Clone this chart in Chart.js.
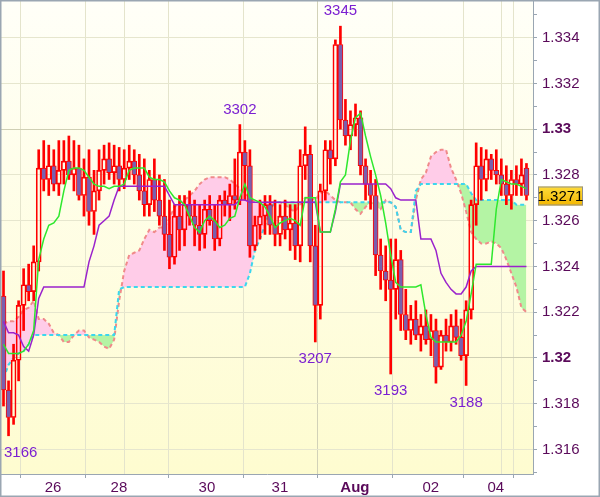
<!DOCTYPE html>
<html lang="en">
<head>
<meta charset="UTF-8">
<title>Ichimoku chart</title>
<script src="https://cdn.jsdelivr.net/npm/chart.js@4.4.0/dist/chart.umd.min.js"></script>
<style>
  html, body { margin: 0; padding: 0; background: #fff; }
</style>
</head>
<body>
<canvas id="chart" width="600" height="497"></canvas>
<script>
// hourly candles, index 0..104
const opens = [
  1.3227,1.3186,1.3174,1.3199,1.3223,1.3232,1.3229,1.3242,1.3283,1.3278,
  1.3284,1.3276,1.3282,1.3286,1.3280,1.3283,1.3271,1.3279,1.3264,1.3273,
  1.3282,1.3287,1.3281,1.3284,1.3278,1.3283,1.3286,1.3280,1.3273,1.3267,
  1.3278,1.3269,1.3262,1.3254,1.3244,1.3262,1.3256,1.3267,1.3262,1.3258,
  1.3254,1.3265,1.3260,1.3252,1.3269,1.3267,1.3271,1.3269,1.3290,1.3284,
  1.3249,1.3258,1.3262,1.3267,1.3258,1.3254,1.3262,1.3256,1.3259,1.3249,
  1.3284,1.3289,1.3249,1.3223,1.3273,1.3291,1.3287,1.3337,1.3304,1.3297,
  1.3302,1.3305,1.3284,1.3276,1.3271,1.3245,1.3238,1.3234,1.3230,1.3243,
  1.3219,1.3212,1.3217,1.3210,1.3214,1.3208,1.3212,1.3196,1.3210,1.3207,
  1.3214,1.3209,1.3201,1.3221,1.3267,1.3284,1.3278,1.3287,1.3282,1.3280,
  1.3276,1.3271,1.3278,1.3276,1.3283
];
const highs = [
  1.3238,1.3190,1.3206,1.3225,1.3239,1.3241,1.3249,1.3291,1.3295,1.3293,
  1.3291,1.3295,1.3295,1.3297,1.3295,1.3293,1.3287,1.3291,1.3282,1.3291,
  1.3293,1.3294,1.3293,1.3292,1.3291,1.3293,1.3291,1.3289,1.3287,1.3282,
  1.3287,1.3280,1.3278,1.3269,1.3267,1.3271,1.3271,1.3273,1.3269,1.3267,
  1.3269,1.3271,1.3267,1.3271,1.3273,1.3276,1.3287,1.3302,1.3295,1.3291,
  1.3262,1.3269,1.3271,1.3271,1.3269,1.3267,1.3269,1.3267,1.3267,1.3291,
  1.3301,1.3293,1.3258,1.3276,1.3295,1.3295,1.3339,1.3345,1.3313,1.3308,
  1.3311,1.3308,1.3287,1.3282,1.3278,1.3252,1.3249,1.3252,1.3252,1.3247,
  1.3230,1.3223,1.3225,1.3219,1.3221,1.3219,1.3217,1.3212,1.3217,1.3219,
  1.3221,1.3217,1.3225,1.3269,1.3294,1.3292,1.3291,1.3289,1.3291,1.3287,
  1.3284,1.3282,1.3284,1.3287,1.3285
];
const lows = [
  1.3179,1.3166,1.3171,1.3190,1.3212,1.3225,1.3225,1.3238,1.3273,1.3271,
  1.3273,1.3271,1.3276,1.3278,1.3273,1.3269,1.3262,1.3258,1.3254,1.3269,
  1.3276,1.3278,1.3276,1.3273,1.3274,1.3278,1.3276,1.3269,1.3262,1.3262,
  1.3264,1.3258,1.3247,1.3239,1.3241,1.3247,1.3249,1.3258,1.3249,1.3247,
  1.3248,1.3258,1.3247,1.3249,1.3262,1.3260,1.3265,1.3267,1.3269,1.3244,
  1.3247,1.3252,1.3254,1.3254,1.3249,1.3249,1.3252,1.3247,1.3243,1.3242,
  1.3278,1.3242,1.3207,1.3217,1.3269,1.3276,1.3284,1.3300,1.3293,1.3291,
  1.3297,1.3280,1.3269,1.3265,1.3236,1.3230,1.3225,1.3193,1.3217,1.3212,
  1.3208,1.3206,1.3208,1.3203,1.3206,1.3201,1.3189,1.3195,1.3203,1.3203,
  1.3206,1.3199,1.3188,1.3217,1.3258,1.3269,1.3273,1.3278,1.3276,1.3271,
  1.3267,1.3265,1.3271,1.3271,1.3269
];
const closes = [
  1.3186,1.3174,1.3199,1.3223,1.3232,1.3229,1.3242,1.3283,1.3278,1.3284,
  1.3276,1.3282,1.3286,1.3280,1.3283,1.3271,1.3279,1.3264,1.3273,1.3282,
  1.3287,1.3281,1.3284,1.3278,1.3283,1.3286,1.3280,1.3273,1.3267,1.3278,
  1.3269,1.3262,1.3254,1.3244,1.3262,1.3256,1.3267,1.3262,1.3258,1.3254,
  1.3265,1.3260,1.3252,1.3269,1.3267,1.3271,1.3269,1.3290,1.3284,1.3249,
  1.3258,1.3262,1.3267,1.3258,1.3254,1.3262,1.3256,1.3259,1.3249,1.3284,
  1.3289,1.3249,1.3223,1.3273,1.3291,1.3287,1.3337,1.3304,1.3297,1.3302,
  1.3305,1.3284,1.3276,1.3271,1.3245,1.3238,1.3234,1.3230,1.3243,1.3219,
  1.3212,1.3217,1.3210,1.3214,1.3208,1.3212,1.3196,1.3210,1.3207,1.3214,
  1.3209,1.3201,1.3221,1.3267,1.3284,1.3278,1.3287,1.3282,1.3280,1.3276,
  1.3271,1.3278,1.3276,1.3280,1.3271
];

// ichimoku lines
const tenkan = [
  1.3206,1.3202,1.3202,1.3202,1.3203,1.3206,1.3212,1.3243,1.3252,1.3258,
  1.3259,1.3262,1.3273,1.3282,1.3283,1.3283,1.3282,1.3279,1.3276,1.3275,
  1.3275,1.3274,1.3275,1.3275,1.3276,1.3282,1.3283,1.3283,1.3283,1.3279,
  1.3278,1.3278,1.3277,1.3273,1.3270,1.3269,1.3267,1.3262,1.3257,1.3255,
  1.3260,1.3262,1.3260,1.3257,1.3258,1.3261,1.3262,1.3270,1.3276,1.3270,
  1.3269,1.3268,1.3266,1.3262,1.3257,1.3259,1.3260,1.3261,1.3260,1.3258,
  1.3270,1.3270,1.3270,1.3255,1.3255,1.3255,1.3265,1.3277,1.3280,1.3295,
  1.3305,1.3307,1.3297,1.3288,1.3280,1.3271,1.3259,1.3245,1.3233,1.3231,
  1.3231,1.3231,1.3231,1.3232,1.3219,1.3209,1.3207,1.3207,1.3207,1.3207,
  1.3207,1.3210,1.3216,1.3228,1.3241,1.3241,1.3241,1.3241,1.3265,1.3278,
  1.3277,1.3276,1.3276,1.3275,1.3274
];
const kijun = [
  1.3216,1.3211,1.3211,1.3210,1.3205,1.3203,1.3210,1.3226,1.3231,1.3231,
  1.3231,1.3231,1.3231,1.3231,1.3231,1.3231,1.3231,1.3242,1.3249,1.3258,
  1.3260,1.3262,1.3269,1.3275,1.3275,1.3275,1.3275,1.3275,1.3275,1.3275,
  1.3275,1.3275,1.3275,1.3271,1.3267,1.3267,1.3267,1.3267,1.3267,1.3267,
  1.3267,1.3267,1.3267,1.3267,1.3267,1.3267,1.3267,1.3269,1.3269,1.3268,
  1.3268,1.3268,1.3268,1.3268,1.3268,1.3268,1.3268,1.3268,1.3268,1.3268,
  1.3268,1.3268,1.3268,1.3255,1.3255,1.3255,1.3264,1.3276,1.3276,1.3276,
  1.3276,1.3276,1.3276,1.3276,1.3276,1.3276,1.3276,1.3274,1.3270,1.3269,
  1.3269,1.3269,1.3269,1.3252,1.3252,1.3252,1.3247,1.3237,1.3233,1.3230,
  1.3228,1.3228,1.3231,1.3238,1.3240,1.3240,1.3240,1.3240,1.3240,1.3240,
  1.3240,1.3240,1.3240,1.3240,1.3240
];
const spanA = [
  1.3215,1.3216,1.3216,1.3218,1.3221,1.3222,1.3225,1.3217,1.3217,1.3215,
  1.3211,1.3210,1.3207,1.3207,1.3210,1.3212,1.3212,1.3209,1.3208,1.3207,
  1.3205,1.3204,1.3208,1.3225,1.3238,1.3245,1.3246,1.3247,1.3252,1.3256,
  1.3255,1.3257,1.3257,1.3261,1.3266,1.3268,1.3269,1.3271,1.3273,1.3276,
  1.3278,1.3279,1.3279,1.3279,1.3279,1.3278,1.3276,1.3274,1.3272,1.3270,
  1.3268,1.3268,1.3268,1.3268,1.3268,1.3268,1.3267,1.3265,1.3264,1.3267,
  1.3270,1.3270,1.3269,1.3272,1.3273,1.3271,1.3269,1.3268,1.3268,1.3268,
  1.3265,1.3263,1.3266,1.3268,1.3266,1.3265,1.3269,1.3268,1.3266,1.3256,
  1.3255,1.3255,1.3269,1.3278,1.3281,1.3288,1.3290,1.3291,1.3291,1.3283,
  1.3278,1.3272,1.3264,1.3255,1.3252,1.3250,1.3250,1.3251,1.3250,1.3248,
  1.3243,1.3237,1.3231,1.3222,1.3220
];
const spanB = [
  1.3191,1.3197,1.3200,1.3202,1.3203,1.3206,1.3210,1.3210,1.3210,1.3210,
  1.3210,1.3210,1.3210,1.3210,1.3210,1.3210,1.3210,1.3210,1.3210,1.3210,
  1.3210,1.3210,1.3210,1.3230,1.3231,1.3231,1.3231,1.3231,1.3231,1.3231,
  1.3231,1.3231,1.3231,1.3231,1.3231,1.3231,1.3231,1.3231,1.3231,1.3231,
  1.3231,1.3231,1.3231,1.3231,1.3231,1.3231,1.3231,1.3231,1.3231,1.3237,
  1.3247,1.3252,1.3258,1.3265,1.3268,1.3268,1.3268,1.3268,1.3268,1.3268,
  1.3268,1.3268,1.3268,1.3268,1.3268,1.3268,1.3268,1.3268,1.3268,1.3268,
  1.3268,1.3268,1.3268,1.3268,1.3268,1.3268,1.3268,1.3268,1.3266,1.3256,
  1.3255,1.3255,1.3273,1.3276,1.3276,1.3276,1.3276,1.3276,1.3276,1.3276,
  1.3276,1.3276,1.3276,1.3272,1.3269,1.3269,1.3269,1.3269,1.3269,1.3269,
  1.3269,1.3269,1.3267,1.3267,1.3267
];

// x axis: positions on the candle index scale
const dayTicks = [9.84, 22.96, 40.45, 54.97, 69.88, 84.99, 97.91];
const dayLabels = ['26', '28', '30', '31', 'Aug', '02', '04'];
const weekBreaks = [25.35, 100.3];

// high / low markers
const markIdx = [1, 47, 62, 67, 77, 92];
const markSide = ['low', 'high', 'low', 'high', 'low', 'low'];

const AXIS = '#9aa6b2';
const LABEL = '#5a0a5a';
const FONT = "'Liberation Sans', Arial, sans-serif";
Chart.defaults.font.family = FONT;

const pts = arr => arr.map((v, i) => ({ x: i, y: v }));
const bodies = opens.map((o, i) => ({ x: i, y: [o, closes[i]] }));
const upWick = highs.map((h, i) => ({ x: i, y: [Math.max(opens[i], closes[i]), h] }));
const dnWick = lows.map((l, i) => ({ x: i, y: [l, Math.min(opens[i], closes[i])] }));
const bodyFill = opens.map((o, i) => closes[i] < o ? '#7a5fae' : 'rgba(0,0,0,0)');

const overlay = {
  id: 'overlay',
  beforeDraw(chart) {
    const { ctx, chartArea: a } = chart;
    ctx.save();
    ctx.fillStyle = '#ffffff';
    ctx.fillRect(0, 0, chart.width, chart.height);
    const g = ctx.createLinearGradient(0, a.top, 0, a.bottom);
    g.addColorStop(0, '#fffff8');
    g.addColorStop(1, '#fefcd0');
    ctx.fillStyle = g;
    ctx.fillRect(a.left, a.top, a.right - a.left, a.bottom - a.top);
    ctx.restore();
  },
  afterDraw(chart) {
    const { ctx, chartArea: a } = chart;
    const xs = chart.scales.x, ys = chart.scales.y;
    ctx.save();
    // high/low labels
    ctx.font = '15px ' + FONT;
    ctx.fillStyle = '#7b1fd1';
    ctx.textAlign = 'center';
    ctx.textBaseline = 'middle';
    markIdx.forEach((idx, k) => {
      const v = markSide[k] === 'high' ? highs[idx] : lows[idx];
      const txt = String(Math.round(v * 10000) % 10000);
      const w = ctx.measureText(txt).width;
      let x = xs.getPixelForValue(idx);
      x = Math.max(x, a.left + 3 + w / 2);
      const y = ys.getPixelForValue(v) + (markSide[k] === 'high' ? -15 : 17);
      ctx.fillText(txt, x, y);
    });
    // last price box
    const last = closes[closes.length - 1];
    const py = Math.round(ys.getPixelForValue(last));
    const bx = a.right + 5, bw = 45, bh = 19;
    const g = ctx.createLinearGradient(0, py - bh / 2, 0, py + bh / 2);
    g.addColorStop(0, '#ffdc3c');
    g.addColorStop(1, '#f3b600');
    ctx.fillStyle = g;
    ctx.fillRect(bx, py - bh / 2, bw, bh);
    ctx.strokeStyle = '#8f8f8f';
    ctx.lineWidth = 1;
    ctx.strokeRect(bx + 0.5, py - bh / 2 + 0.5, bw - 1, bh - 1);
    ctx.fillStyle = '#000';
    ctx.font = '15px ' + FONT;
    ctx.fillText(last.toFixed(4), bx + bw / 2, py + 1);
    // outer frame
    ctx.strokeStyle = AXIS;
    ctx.lineWidth = 2;
    ctx.strokeRect(0.5, 0.5, chart.width - 1, chart.height - 1);
    ctx.restore();
  }
};

new Chart(document.getElementById('chart'), {
  type: 'bar',
  data: {
    datasets: [
      {
        type: 'line', data: pts(spanA), order: 11,
        borderColor: '#f08a8a', borderWidth: 2, borderDash: [4, 3],
        pointRadius: 0, tension: 0,
        fill: { target: 1, above: '#ffcce8', below: '#b4f4a4' }
      },
      {
        type: 'line', data: pts(spanB), order: 10,
        borderColor: '#3cd6ee', borderWidth: 2, borderDash: [4, 3],
        pointRadius: 0, tension: 0, fill: false
      },
      { data: upWick, order: 6, backgroundColor: '#ff0000', barThickness: 2, grouped: false, borderSkipped: false },
      { data: dnWick, order: 6, backgroundColor: '#ff0000', barThickness: 2, grouped: false, borderSkipped: false },
      {
        data: bodies, order: 5, backgroundColor: bodyFill, borderColor: '#ff0000',
        borderWidth: 1, barThickness: 5, grouped: false, borderSkipped: false
      },
      {
        type: 'line', data: pts(kijun), order: 2,
        borderColor: '#9a22cc', borderWidth: 1.5, pointRadius: 0, tension: 0, fill: false
      },
      {
        type: 'line', data: pts(tenkan), order: 1,
        borderColor: '#2ee82e', borderWidth: 1.5, pointRadius: 0, tension: 0, fill: false
      }
    ]
  },
  options: {
    responsive: false,
    animation: false,
    layout: { padding: { top: 1, left: 1, right: 0, bottom: 0 } },
    plugins: { legend: { display: false }, tooltip: { enabled: false } },
    scales: {
      x: {
        type: 'linear', min: -0.5, max: 105.3, offset: false,
        afterFit: s => { s.height = 23; s.paddingLeft = 0; s.paddingRight = 0; },
        afterBuildTicks: s => {
          s.ticks = dayTicks.concat(weekBreaks).sort((p, q) => p - q).map(v => ({ value: v }));
        },
        border: { color: AXIS, width: 1 },
        grid: {
          color: c => (c.tick && c.tick.value === dayTicks[4]) ? '#d2d2b8' : '#e4e4cc',
          tickColor: c => (c.tick && weekBreaks.includes(c.tick.value)) ? 'rgba(0,0,0,0)' : AXIS,
          tickLength: 4
        },
        ticks: {
          autoSkip: false, maxRotation: 0, padding: 1, color: LABEL,
          callback: v => { const i = dayTicks.indexOf(v); return i >= 0 ? dayLabels[i] : ''; },
          font: c => ({ size: 15, weight: (c.tick && c.tick.value === dayTicks[4]) ? 'bold' : 'normal' })
        }
      },
      y: {
        position: 'right', min: 1.31493, max: 1.3356,
        afterFit: s => { s.width = 67; s.paddingTop = 0; s.paddingBottom = 0; },
        border: { color: AXIS, width: 1 },
        grid: {
          color: c => {
            if (!c.tick) return '#e4e4cc';
            const k = Math.round(c.tick.value * 1000);
            if (k % 2) return 'rgba(0,0,0,0)';
            return k % 10 === 0 ? '#cfcfb4' : '#e6e6ce';
          },
          tickColor: AXIS, tickLength: 4
        },
        ticks: {
          stepSize: 0.001, includeBounds: false, padding: 5, color: LABEL,
          callback: v => {
            const k = Math.round(v * 1000);
            if (k % 2) return '';
            return k % 10 === 0 ? (k / 1000).toFixed(2) : (k / 1000).toFixed(3);
          },
          font: c => {
            const k = c.tick ? Math.round(c.tick.value * 1000) : 1;
            return { size: 15, weight: k % 10 === 0 ? 'bold' : 'normal' };
          }
        }
      }
    }
  },
  plugins: [overlay]
});
</script>
</body>
</html>
